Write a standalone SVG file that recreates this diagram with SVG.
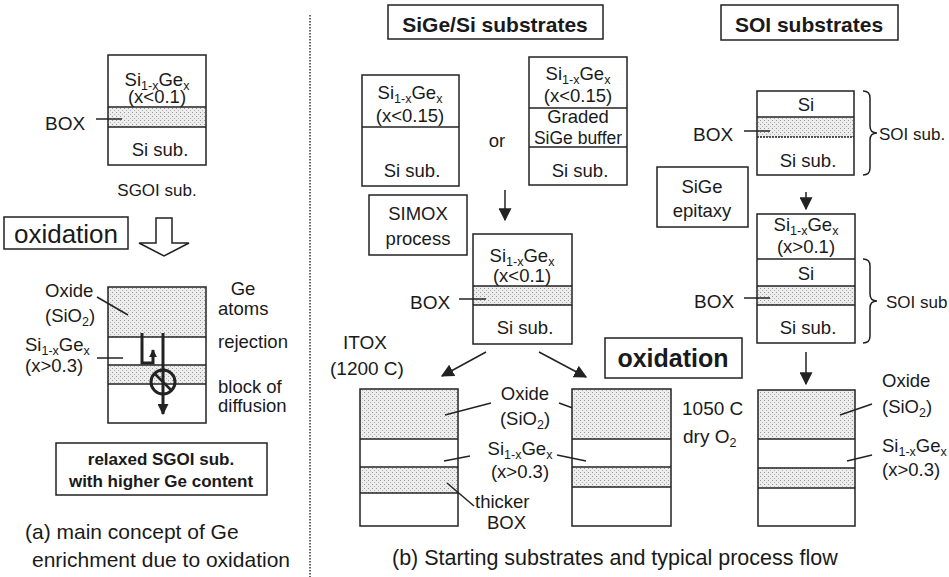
<svg xmlns="http://www.w3.org/2000/svg" width="949" height="577" viewBox="0 0 949 577">
<style>
.t{font-family:"Liberation Sans",Arial,sans-serif;font-size:18.5px;fill:#1a1a1a}
.b{font-family:"Liberation Sans",Arial,sans-serif;font-weight:bold;fill:#1a1a1a}
.s{font-size:12.5px}
.m{text-anchor:middle}
.ln{stroke:#222;stroke-width:1.5;fill:none}
.box{stroke:#222;stroke-width:1.5;fill:#fff}
.dot{fill:url(#dots)}
</style>
<defs>
<pattern id="dots" width="4" height="4" patternUnits="userSpaceOnUse">
<rect width="4" height="4" fill="#ededed"/>
<rect x="0" y="0" width="1" height="1" fill="#9a9a9a"/>
<rect x="2" y="2" width="1" height="1" fill="#b5b5b5"/>
</pattern>
<marker id="ah" viewBox="0 0 10 10" refX="9" refY="5" markerWidth="8" markerHeight="8" markerUnits="userSpaceOnUse" orient="auto">
<path d="M0 0 L10 5 L0 10 Z" fill="#222"/>
</marker>
<marker id="ah2" viewBox="0 0 10 10" refX="9" refY="5" markerWidth="11" markerHeight="11" markerUnits="userSpaceOnUse" orient="auto">
<path d="M0 0 L10 5 L0 10 Z" fill="#222"/>
</marker>
<marker id="ah3" viewBox="0 0 10 10" refX="9" refY="5" markerWidth="13" markerHeight="13" markerUnits="userSpaceOnUse" orient="auto">
<path d="M0 0 L10 5 L0 10 Z" fill="#222"/>
</marker>
</defs>
<rect width="949" height="577" fill="#fff"/>

<!-- separator -->
<line x1="310" y1="15" x2="310" y2="577" stroke="#333" stroke-width="1.5" stroke-dasharray="1.5 1.5"/>

<!-- LEFT PANEL -->
<g id="sgoi-stack">
<rect class="dot" x="108" y="107" width="98" height="20"/>
<rect class="ln" x="108" y="55" width="98" height="110"/>
<line class="ln" x1="108" y1="107" x2="206" y2="107"/>
<line class="ln" x1="108" y1="127" x2="206" y2="127"/>
<text class="t m" x="157" y="86">Si<tspan class="s" dy="4">1-x</tspan><tspan dy="-4">Ge</tspan><tspan class="s" dy="4">x</tspan></text>
<text class="t m" x="157" y="103">(x&lt;0.1)</text>
<text class="t m" x="160" y="156">Si sub.</text>
<text class="t" x="45" y="130" style="font-size:19px">BOX</text>
<line class="ln" x1="96" y1="119" x2="122" y2="119"/>
<text class="t m" x="157" y="196" style="font-size:17px">SGOI sub.</text>
</g>

<g id="oxidation-left">
<rect class="box" x="4" y="217" width="124" height="32"/>
<text class="t m" x="66" y="243" style="font-size:26px">oxidation</text>
<path d="M156 218 L172 218 L172 243 L189 243 L164 256 L139 243 L156 243 Z" fill="#fff" stroke="#222" stroke-width="1.5"/>
</g>

<g id="enriched-stack">
<rect class="dot" x="108" y="287" width="98" height="50"/>
<rect class="dot" x="108" y="365" width="98" height="19"/>
<rect class="ln" x="108" y="287" width="98" height="136"/>
<line class="ln" x1="108" y1="337" x2="206" y2="337"/>
<line class="ln" x1="108" y1="365" x2="206" y2="365"/>
<line class="ln" x1="108" y1="384" x2="206" y2="384"/>
<path d="M142 333 L142 363 L153 363 L153 350" fill="none" stroke="#222" stroke-width="3" marker-end="url(#ah)"/>
<line x1="163" y1="333" x2="163" y2="414" stroke="#222" stroke-width="3" marker-end="url(#ah2)"/>
<circle cx="163" cy="382" r="12" fill="none" stroke="#222" stroke-width="3"/>
<line x1="155" y1="374" x2="171" y2="390" stroke="#222" stroke-width="2.5"/>
<text class="t" x="45" y="297">Oxide</text>
<text class="t" x="45" y="322">(SiO<tspan class="s" dy="4">2</tspan><tspan dy="-4">)</tspan></text>
<line class="ln" x1="97" y1="297" x2="128" y2="315"/>
<text class="t" x="25" y="351">Si<tspan class="s" dy="4">1-x</tspan><tspan dy="-4">Ge</tspan><tspan class="s" dy="4">x</tspan></text>
<text class="t" x="25" y="372">(x&gt;0.3)</text>
<line class="ln" x1="97" y1="358" x2="123" y2="358"/>
<text class="t m" x="243" y="295">Ge</text>
<text class="t" x="218" y="315">atoms</text>
<text class="t" x="218" y="348">rejection</text>
<text class="t" x="218" y="393">block of</text>
<text class="t" x="218" y="412">diffusion</text>
</g>

<g id="result-box">
<rect class="box" x="56" y="443" width="211" height="52"/>
<text class="b m" x="161" y="465" style="font-size:17px">relaxed SGOI sub.</text>
<text class="b m" x="161" y="487" style="font-size:17px">with higher Ge content</text>
</g>

<g id="caption-a">
<text class="t" x="25" y="539" style="font-size:21px">(a) main concept of Ge</text>
<text class="t" x="32" y="567" style="font-size:21px">enrichment due to oxidation</text>
</g>

<!-- CENTER PANEL -->
<g id="sige-title">
<rect class="box" x="388" y="5" width="215" height="34"/>
<text class="b m" x="495" y="32" style="font-size:21px">SiGe/Si substrates</text>
</g>

<g id="sige-stack-1">
<rect class="ln" x="362" y="75" width="97" height="111"/>
<line class="ln" x1="362" y1="127" x2="459" y2="127"/>
<text class="t m" x="410" y="99">Si<tspan class="s" dy="4">1-x</tspan><tspan dy="-4">Ge</tspan><tspan class="s" dy="4">x</tspan></text>
<text class="t m" x="410" y="122">(x&lt;0.15)</text>
<text class="t m" x="412" y="177">Si sub.</text>
</g>
<text class="t m" x="497" y="147">or</text>

<g id="sige-stack-2">
<rect class="ln" x="529" y="57" width="98" height="128"/>
<line class="ln" x1="529" y1="108" x2="627" y2="108"/>
<line class="ln" x1="529" y1="147" x2="627" y2="147"/>
<text class="t m" x="578" y="80">Si<tspan class="s" dy="4">1-x</tspan><tspan dy="-4">Ge</tspan><tspan class="s" dy="4">x</tspan></text>
<text class="t m" x="578" y="102">(x&lt;0.15)</text>
<text class="t m" x="578" y="123">Graded</text>
<text class="t m" x="578" y="144" style="font-size:17.5px">SiGe buffer</text>
<text class="t m" x="580" y="177">Si sub.</text>
</g>

<g id="simox-box">
<rect class="box" x="369" y="195" width="98" height="60"/>
<text class="t m" x="418" y="220">SIMOX</text>
<text class="t m" x="418" y="245">process</text>
</g>

<g id="simox-stack">
<rect class="dot" x="473" y="286" width="99" height="19"/>
<rect class="ln" x="473" y="234" width="99" height="110"/>
<line class="ln" x1="473" y1="286" x2="572" y2="286"/>
<line class="ln" x1="473" y1="305" x2="572" y2="305"/>
<text class="t m" x="522" y="262">Si<tspan class="s" dy="4">1-x</tspan><tspan dy="-4">Ge</tspan><tspan class="s" dy="4">x</tspan></text>
<text class="t m" x="522" y="282">(x&lt;0.1)</text>
<text class="t m" x="525" y="334">Si sub.</text>
<text class="t" x="410" y="309" style="font-size:19px">BOX</text>
<line class="ln" x1="459" y1="299" x2="486" y2="299"/>
</g>

<g id="itox-label">
<text class="t" x="343" y="349" style="font-size:19px">ITOX</text>
<text class="t" x="330" y="375" style="font-size:19px">(1200 C)</text>
</g>

<g id="oxidation-center">
<rect class="box" x="605" y="338" width="137" height="40"/>
<text class="b m" x="673" y="367" style="font-size:25px">oxidation</text>
</g>

<g id="itox-stack">
<rect class="dot" x="360" y="389" width="98" height="50"/>
<rect class="dot" x="360" y="467" width="98" height="26"/>
<rect class="ln" x="360" y="389" width="98" height="137"/>
<line class="ln" x1="360" y1="439" x2="458" y2="439"/>
<line class="ln" x1="360" y1="467" x2="458" y2="467"/>
<line class="ln" x1="360" y1="493" x2="458" y2="493"/>
</g>

<g id="center-labels">
<text class="t m" x="525" y="400">Oxide</text>
<text class="t m" x="525" y="425">(SiO<tspan class="s" dy="4">2</tspan><tspan dy="-4">)</tspan></text>
<text class="t m" x="520" y="455">Si<tspan class="s" dy="4">1-x</tspan><tspan dy="-4">Ge</tspan><tspan class="s" dy="4">x</tspan></text>
<text class="t m" x="520" y="478">(x&gt;0.3)</text>
<text class="t" x="475" y="508">thicker</text>
<text class="t" x="487" y="529">BOX</text>
<line class="ln" x1="491" y1="403" x2="445" y2="415"/>
<line class="ln" x1="559" y1="403" x2="592" y2="415"/>
<line class="ln" x1="470" y1="456" x2="444" y2="461"/>
<line class="ln" x1="557" y1="455" x2="586" y2="461"/>
<line class="ln" x1="447" y1="483" x2="474" y2="506"/>
</g>

<g id="dryox-stack">
<rect class="dot" x="572" y="389" width="99" height="50"/>
<rect class="dot" x="572" y="467" width="99" height="20"/>
<rect class="ln" x="572" y="389" width="99" height="137"/>
<line class="ln" x1="572" y1="439" x2="671" y2="439"/>
<line class="ln" x1="572" y1="467" x2="671" y2="467"/>
<line class="ln" x1="572" y1="487" x2="671" y2="487"/>
</g>
<g id="dryox-label">
<text class="t" x="682" y="415" style="font-size:19px">1050 C</text>
<text class="t" x="683" y="443" style="font-size:19px">dry O<tspan class="s" dy="4">2</tspan></text>
</g>

<!-- RIGHT PANEL -->
<g id="soi-title">
<rect class="box" x="721" y="5" width="177" height="35"/>
<text class="b m" x="809" y="32" style="font-size:21px">SOI substrates</text>
</g>

<g id="soi-stack">
<rect class="dot" x="757" y="117" width="97" height="20"/>
<rect class="ln" x="757" y="91" width="97" height="84"/>
<line class="ln" x1="757" y1="117" x2="854" y2="117"/>
<line class="ln" x1="757" y1="137" x2="854" y2="137" stroke-dasharray="2 1"/>
<text class="t m" x="806" y="111">Si</text>
<text class="t m" x="808" y="167">Si sub.</text>
<text class="t" x="693" y="141" style="font-size:19px">BOX</text>
<line class="ln" x1="744" y1="131" x2="770" y2="131"/>
<path class="ln" d="M863 91 Q870 91 870 98 L870 126 Q870 133 877 133 Q870 133 870 140 L870 168 Q870 175 863 175"/>
<text class="t" x="879" y="140" style="font-size:17px">SOI sub.</text>
</g>

<g id="epi-box">
<rect class="box" x="657" y="167" width="91" height="60"/>
<text class="t m" x="702" y="193">SiGe</text>
<text class="t m" x="702" y="217">epitaxy</text>
</g>

<g id="epi-stack">
<rect class="dot" x="757" y="286" width="98" height="19"/>
<rect class="ln" x="757" y="214" width="98" height="129"/>
<line class="ln" x1="757" y1="259" x2="855" y2="259"/>
<line class="ln" x1="757" y1="286" x2="855" y2="286"/>
<line class="ln" x1="757" y1="305" x2="855" y2="305"/>
<text class="t m" x="806" y="231">Si<tspan class="s" dy="4">1-x</tspan><tspan dy="-4">Ge</tspan><tspan class="s" dy="4">x</tspan></text>
<text class="t m" x="806" y="253">(x&gt;0.1)</text>
<text class="t m" x="806" y="280">Si</text>
<text class="t m" x="808" y="334">Si sub.</text>
<text class="t" x="694" y="308" style="font-size:19px">BOX</text>
<line class="ln" x1="744" y1="298" x2="770" y2="298"/>
<path class="ln" d="M863 259 Q870 259 870 266 L870 294 Q870 301 877 301 Q870 301 870 308 L870 336 Q870 343 863 343"/>
<text class="t" x="886" y="308" style="font-size:17px">SOI sub</text>
</g>

<g id="final-stack">
<rect class="dot" x="758" y="390" width="97" height="49"/>
<rect class="dot" x="758" y="468" width="97" height="20"/>
<rect class="ln" x="758" y="390" width="97" height="136"/>
<line class="ln" x1="758" y1="439" x2="855" y2="439"/>
<line class="ln" x1="758" y1="468" x2="855" y2="468"/>
<line class="ln" x1="758" y1="488" x2="855" y2="488"/>
<text class="t" x="882" y="387">Oxide</text>
<text class="t" x="882" y="413">(SiO<tspan class="s" dy="4">2</tspan><tspan dy="-4">)</tspan></text>
<text class="t" x="882" y="452">Si<tspan class="s" dy="4">1-x</tspan><tspan dy="-4">Ge</tspan><tspan class="s" dy="4">x</tspan></text>
<text class="t" x="882" y="476">(x&gt;0.3)</text>
<line class="ln" x1="872" y1="404" x2="840" y2="415"/>
<line class="ln" x1="872" y1="455" x2="847" y2="461"/>
</g>

<g id="caption-b">
<text class="t" x="392" y="565" style="font-size:21.5px">(b) Starting substrates and typical process flow</text>
</g>

<g id="connectors">
<line class="ln" x1="505" y1="190" x2="505" y2="220" marker-end="url(#ah3)"/>
<line class="ln" x1="486" y1="352" x2="442" y2="376" marker-end="url(#ah3)"/>
<line class="ln" x1="539" y1="352" x2="586" y2="377" marker-end="url(#ah3)"/>
<line class="ln" x1="806" y1="192" x2="806" y2="209" marker-end="url(#ah3)"/>
<line class="ln" x1="806" y1="352" x2="806" y2="384" marker-end="url(#ah3)"/>
</g>
</svg>
